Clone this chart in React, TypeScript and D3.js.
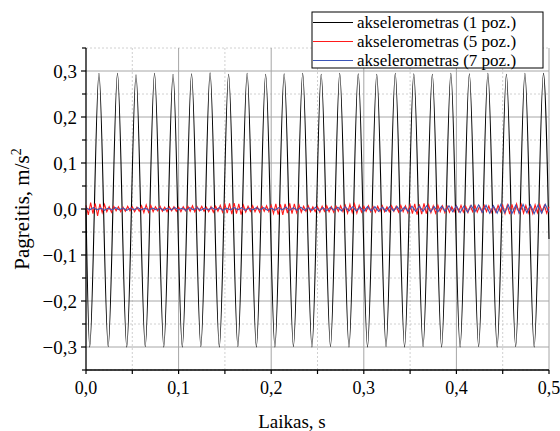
import React from "react";
import * as d3 from "d3";

// black trace (1 poz.) - extrema
const sineT = [
  0.0, 0.004, 0.014, 0.024, 0.034, 0.044, 0.054, 0.064, 0.074, 0.084, 0.094,
  0.104, 0.114, 0.124, 0.134, 0.144, 0.154, 0.164, 0.174, 0.184, 0.194,
  0.204, 0.214, 0.224, 0.234, 0.244, 0.254, 0.264, 0.274, 0.284, 0.294,
  0.304, 0.314, 0.324, 0.334, 0.344, 0.354, 0.364, 0.374, 0.384, 0.394,
  0.404, 0.414, 0.424, 0.434, 0.444, 0.454, 0.464, 0.474, 0.484, 0.494, 0.5,
];
const sineV = [
  0.0, -0.3, 0.295, -0.299, 0.295, -0.3, 0.292, -0.299, 0.295, -0.3, 0.293,
  -0.3, 0.294, -0.299, 0.296, -0.3, 0.293, -0.299, 0.295, -0.3, 0.293,
  -0.3, 0.294, -0.299, 0.295, -0.3, 0.293, -0.299, 0.295, -0.3, 0.294,
  -0.3, 0.293, -0.299, 0.295, -0.3, 0.294, -0.299, 0.293, -0.3, 0.295,
  -0.3, 0.294, -0.299, 0.295, -0.3, 0.293, -0.299, 0.295, -0.3, 0.295, -0.065,
];

// red trace (5 poz.), one value every 2.5 ms
const redStep = 0.0025;
const redV = [
  0.008, -0.013, 0.014, -0.010, 0.012, -0.015, 0.011, -0.008, 0.010, -0.006,
  0.005, -0.007, 0.006, -0.004, 0.005, -0.006, 0.004, -0.005, 0.006, -0.004,
  0.005, -0.006, 0.004, -0.005, 0.007, -0.008, 0.009, -0.007, 0.008, -0.006,
  0.005, -0.004, 0.006, -0.005, 0.004, -0.006, 0.005, -0.004, 0.005, -0.005,
  0.004, -0.006, 0.005, -0.004, 0.006, -0.005, 0.007, -0.006, 0.005, -0.004,
  0.006, -0.005, 0.004, -0.006, 0.005, -0.007, 0.006, -0.005, 0.008, -0.007,
  0.010, -0.009, 0.012, -0.011, 0.013, -0.010, 0.011, -0.012, 0.008, -0.007,
  0.006, -0.005, 0.007, -0.006, 0.005, -0.007, 0.006, -0.005, 0.007, -0.006,
  0.008, -0.010, 0.011, -0.012, 0.010, -0.013, 0.011, -0.009, 0.012, -0.010,
  0.011, -0.008, 0.009, -0.007, 0.006, -0.005, 0.007, -0.006, 0.005, -0.006,
  0.005, -0.007, 0.006, -0.005, 0.007, -0.006, 0.005, -0.007, 0.006, -0.005,
  0.007, -0.006, 0.008, -0.009, 0.010, -0.008, 0.011, -0.009, 0.008, -0.007,
  0.006, -0.005, 0.007, -0.006, 0.005, -0.007, 0.006, -0.005, 0.007, -0.006,
  0.005, -0.006, 0.007, -0.005, 0.006, -0.007, 0.008, -0.006, 0.007, -0.008,
  0.009, -0.010, 0.011, -0.012, 0.010, -0.011, 0.012, -0.010, 0.009, -0.008,
  0.007, -0.009, 0.008, -0.006, 0.007, -0.008, 0.006, -0.007, 0.005, -0.006,
  0.007, -0.006, 0.008, -0.007, 0.006, -0.008, 0.007, -0.006, 0.008, -0.007,
  0.006, -0.007, 0.008, -0.006, 0.007, -0.008, 0.006, -0.007, 0.008, -0.006,
  0.008, -0.010, 0.009, -0.011, 0.010, -0.009, 0.011, -0.008, 0.010, -0.009,
  0.008, -0.009, 0.007, -0.010, 0.009, -0.008, 0.010, -0.007, 0.008, -0.009,
  0.005,
];

// blue trace (7 poz.), one value every 4 ms
const blueStep = 0.004;
const blueV = [
  0.003, -0.002, 0.003, -0.002, 0.002, -0.003, 0.002, -0.002, 0.003, -0.002,
  0.002, -0.003, 0.002, -0.002, 0.003, -0.002, 0.002, -0.003, 0.002, -0.002,
  0.002, -0.003, 0.002, -0.002, 0.003, -0.002, 0.002, -0.003, 0.003, -0.002,
  0.003, -0.003, 0.002, -0.002, 0.003, -0.002, 0.003, -0.003, 0.002, -0.002,
  0.003, -0.002, 0.003, -0.003, 0.002, -0.002, 0.003, -0.002, 0.003, -0.003,
  0.002, -0.003, 0.003, -0.002, 0.004, -0.003, 0.003, -0.003, 0.004, -0.003,
  0.003, -0.003, 0.004, -0.004, 0.003, -0.004, 0.004, -0.003, 0.004, -0.004,
  0.005, -0.004, 0.005, -0.004, 0.004, -0.005, 0.005, -0.004, 0.005, -0.005,
  0.004, -0.005, 0.005, -0.004, 0.005, -0.005, 0.004, -0.005, 0.006, -0.005,
  0.006, -0.005, 0.007, -0.006, 0.005, -0.006, 0.006, -0.005, 0.007, -0.006,
  0.007, -0.008, 0.006, -0.007, 0.008, -0.006, 0.009, -0.007, 0.008, -0.009,
  0.007, -0.009, 0.010, -0.008, 0.009, -0.010, 0.008, -0.009, 0.010, -0.008,
  0.009, -0.010, 0.008, -0.009, 0.010, -0.007,
];

const xTicks = [0, 0.1, 0.2, 0.3, 0.4, 0.5];
const xMinor = [0.05, 0.15, 0.25, 0.35, 0.45];
const yTicks = [-0.3, -0.2, -0.1, 0, 0.1, 0.2, 0.3];
const yMinor = [-0.35, -0.25, -0.15, -0.05, 0.05, 0.15, 0.25, 0.35];

const seriesNames = ["akselerometras (1 poz.)", "akselerometras (5 poz.)", "akselerometras (7 poz.)"];
const seriesColors = ["#000000", "#ff1a1a", "#3a55b8"];

const font = "'Liberation Serif', 'Times New Roman', serif";
const fmt = (v: number) => d3.format(".1f")(v).replace(".", ",").replace("-", "\u2212");

export default function App() {
  const x = d3.scaleLinear().domain([0, 0.5]).range([86, 549]);
  const y = d3.scaleLinear().domain([-0.35, 0.35]).range([370, 48]);

  const black = sineT.map((t, i) => [t, sineV[i]] as [number, number]);
  const red = redV.map((v, i) => [i * redStep, v] as [number, number]);
  const blue = blueV.map((v, i) => [i * blueStep, v] as [number, number]);

  const smooth = d3
    .line<[number, number]>()
    .x((d) => x(d[0]))
    .y((d) => y(d[1]))
    .curve(d3.curveMonotoneX);
  const plain = d3
    .line<[number, number]>()
    .x((d) => x(d[0]))
    .y((d) => y(d[1]));

  const [x0, x1] = x.range();
  const [yb, yt] = y.range();

  return (
    <svg
      width={560}
      height={431}
      style={{ position: "absolute", left: 0, top: 0, background: "#fff" }}
      fontFamily={font}
    >
      {/* minor grid */}
      {xMinor.map((t) => (
        <line key={"xm" + t} x1={x(t)} x2={x(t)} y1={yb} y2={yt} stroke="#c4c4c4" strokeWidth={0.8} strokeDasharray="2,2" />
      ))}
      {yMinor.map((t) => (
        <line key={"ym" + t} x1={x0} x2={x1} y1={y(t)} y2={y(t)} stroke="#c4c4c4" strokeWidth={0.8} strokeDasharray="2,2" />
      ))}
      {/* major grid */}
      {xTicks.slice(1).map((t) => (
        <line key={"xg" + t} x1={x(t)} x2={x(t)} y1={yb} y2={yt} stroke="#a6a6a6" strokeWidth={1} />
      ))}
      {yTicks.map((t) => (
        <line key={"yg" + t} x1={x0} x2={x1} y1={y(t)} y2={y(t)} stroke="#a6a6a6" strokeWidth={1} />
      ))}

      {/* data */}
      <path d={smooth(black) || ""} fill="none" stroke={seriesColors[0]} strokeWidth={1.1} />
      <path d={plain(red) || ""} fill="none" stroke={seriesColors[1]} strokeWidth={1.1} />
      <path d={plain(blue) || ""} fill="none" stroke={seriesColors[2]} strokeWidth={1.1} />

      {/* axes */}
      <line x1={x0} x2={x0} y1={yb} y2={yt} stroke="#000" strokeWidth={1.3} />
      <line x1={x0} x2={x1} y1={yb} y2={yb} stroke="#000" strokeWidth={1.3} />
      {yTicks.map((t) => (
        <g key={"yt" + t}>
          <line x1={x0 - 5} x2={x0} y1={y(t)} y2={y(t)} stroke="#000" strokeWidth={1.2} />
          <text x={x0 - 9} y={y(t)} dy="0.35em" textAnchor="end" fontSize={19}>
            {fmt(t)}
          </text>
        </g>
      ))}
      {yMinor.map((t) => (
        <line key={"ymt" + t} x1={x0 - 4} x2={x0} y1={y(t)} y2={y(t)} stroke="#000" strokeWidth={1.2} />
      ))}
      {xTicks.map((t) => (
        <g key={"xt" + t}>
          <line x1={x(t)} x2={x(t)} y1={yb} y2={yb + 4} stroke="#000" strokeWidth={1.2} />
          <text x={x(t)} y={yb + 24} textAnchor="middle" fontSize={18}>
            {fmt(t)}
          </text>
        </g>
      ))}
      {xMinor.map((t) => (
        <line key={"xmt" + t} x1={x(t)} x2={x(t)} y1={yb} y2={yb + 4} stroke="#000" strokeWidth={1.2} />
      ))}

      {/* axis titles */}
      <text x={292} y={428} textAnchor="middle" fontSize={19}>
        Laikas, s
      </text>
      <text transform={`translate(29,${(yb + yt) / 2}) rotate(-90)`} textAnchor="middle" fontSize={21}>
        Pagreitis, m/s<tspan dy="-8" fontSize={14}>2</tspan>
      </text>

      {/* legend */}
      <rect x={312} y={12} width={231} height={56} fill="#fff" stroke="#000" strokeWidth={1} />
      {seriesNames.map((name, i) => (
        <g key={name}>
          <line x1={313} x2={353} y1={22.5 + i * 19} y2={22.5 + i * 19} stroke={seriesColors[i]} strokeWidth={1.1} />
          <text x={357} y={22.5 + i * 19} dy="0.35em" fontSize={17}>
            {name}
          </text>
        </g>
      ))}
    </svg>
  );
}
